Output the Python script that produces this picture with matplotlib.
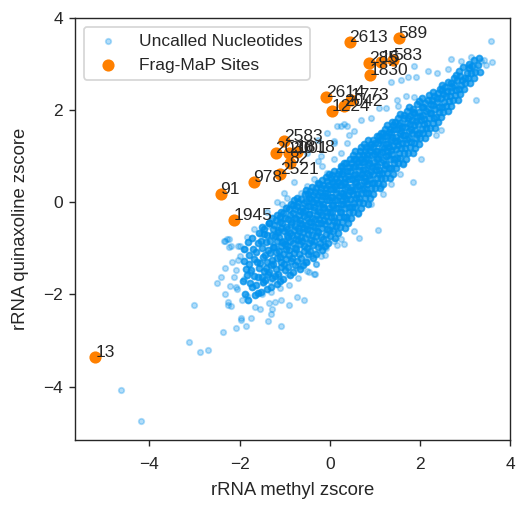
import matplotlib
matplotlib.use("Agg")
import matplotlib.pyplot as plt
import seaborn as sns

sns.set_style("ticks")
plt.rcParams["font.family"] = ["Liberation Sans", "DejaVu Sans"]
plt.rcParams["font.size"] = 10

# Frag-MaP sites (orange) with labels
site_labels = ["13", "1945", "91", "978", "2521", "2583", "2030", "1818", "2001", "82",
               "2614", "1224", "2042", "1773", "2613", "589", "285", "16", "583", "1830"]
site_x = [-5.20, -2.13, -2.42, -1.69, -1.11, -1.02, -1.20, -0.73, -0.91, -0.89,
          -0.09, 0.04, 0.31, 0.47, 0.44, 1.53, 0.87, 1.13, 1.40, 0.89]
site_y = [-3.35, -0.39, 0.17, 0.43, 0.61, 1.34, 1.08, 1.10, 1.08, 0.86,
          2.29, 1.99, 2.10, 2.21, 3.48, 3.57, 3.03, 3.05, 3.09, 2.77]

# Uncalled nucleotides: sparse periphery points
edge_pts = [
    (-4.62, -4.07), (-4.19, -4.74), (-3.02, -2.24), (-3.13, -3.03), (-2.88, -3.25), (-2.70, -3.21),
    (-2.36, -2.82), (-2.07, -2.73), (-1.85, -2.69), (-1.75, -2.51), (-1.97, -2.55), (-2.25, -2.24),
    (-2.20, -2.26), (-2.26, -2.17), (-2.51, -1.76), (-2.33, -1.99), (-2.41, -1.63), (-2.33, -1.43),
    (-2.23, -0.96), (-2.33, -0.83), (-2.23, -0.80), (-2.04, -0.94), (-2.16, -1.30), (-2.07, -1.48),
    (-2.13, -1.63), (-2.22, -1.81), (-1.66, -2.28), (-1.55, -2.31), (-1.94, -2.13), (-1.83, -2.03),
    (-2.05, -1.88), (-1.90, -1.66), (-1.76, -1.52), (-1.98, -1.16), (-1.87, -1.02), (-2.03, -1.25),
    (-2.07, -1.84), (-1.96, -2.51), (-1.36, -2.57), (-1.31, -2.42), (-1.27, -2.31), (-1.09, -2.69),
    (-1.34, -2.18), (-1.22, -2.17), (-1.09, -2.12), (-0.90, -2.23), (-0.72, -2.06), (-0.57, -2.12),
    (-0.33, -1.56), (-0.35, -1.56), (-0.46, -1.52), (-0.31, -1.34), (-0.20, -1.17), (-0.09, -1.00),
    (0.17, -0.93), (0.32, -0.91), (0.54, -0.63), (0.65, -0.78), (1.07, -0.61), (0.10, -0.58),
    (0.24, -0.80), (-0.05, -0.80), (-0.20, -0.94), (-0.42, -1.16), (-0.50, -1.30), (-0.64, -1.38),
    (0.39, -0.37), (0.62, -0.26), (0.91, -0.04), (1.19, 0.17), (1.36, 0.39), (0.83, 0.28),
    (1.13, 0.35), (0.54, 0.06), (1.85, 0.45), (1.56, 0.61), (1.62, 0.86), (2.02, 0.93),
    (2.36, 1.47), (2.47, 1.58), (3.24, 2.21), (3.58, 3.51), (3.59, 3.04), (3.47, 2.98),
    (3.42, 3.08), (3.36, 3.06), (3.23, 2.91), (3.13, 3.15), (3.06, 2.95), (2.91, 3.06),
    (2.70, 3.11), (2.62, 2.89), (2.38, 2.80), (2.17, 2.85), (1.87, 2.95), (1.91, 2.73),
    (1.73, 2.72), (1.58, 2.66), (1.36, 2.62), (1.69, 2.30), (1.87, 2.29), (1.52, 2.10),
    (1.24, 2.05), (1.50, 2.23), (1.10, 2.05), (0.91, 1.83), (0.69, 1.79), (0.54, 1.54),
    (0.39, 1.65), (0.24, 1.65), (0.17, 1.65), (0.32, 1.69), (0.43, 1.47), (0.39, 1.29),
    (0.10, 1.29), (0.24, 1.07), (-0.05, 1.51), (-0.27, 1.36), (0.10, 1.33), (-0.50, 1.07),
    (-0.20, 1.00), (0.10, 0.93), (-0.27, 0.89), (-0.16, 0.78), (-0.05, 0.64), (-0.35, 0.50),
    (-0.50, 0.35), (-0.64, 0.21), (-0.94, 0.10), (-1.05, -0.04), (-0.79, 0.43), (-1.01, 0.21),
    (-1.16, 0.00), (-1.38, -0.22), (-1.09, -0.30), (-1.68, -0.58), (-1.53, -0.69), (-1.83, -0.76),
    (-2.27, -0.80), (-2.35, -0.84), (-2.20, -0.94), (-1.98, -0.94), (-1.38, -0.51), (-0.94, -0.11),
    (-1.50, -2.00), (-1.48, -1.75), (-1.30, -1.95), (-1.32, -1.70), (-1.10, -1.85), (-1.12, -1.60),
    (-0.90, -1.80), (-0.92, -1.55), (-0.70, -1.65), (-0.72, -1.40), (-0.50, -1.50), (-0.52, -1.25),
    (-0.30, -1.35), (-0.32, -1.10), (-0.10, -1.15), (-0.12, -0.95), (0.10, -0.85),
]

# Uncalled nucleotides: dense diagonal core, read column by column (x values, y values)
core_cols = [
    ([-1.88, -1.93, -1.86, -1.91, -1.90], [-1.98, -1.71, -1.44, -1.27, -1.02]),
    ([-1.81, -1.77, -1.84, -1.80, -1.78, -1.82], [-2.11, -1.76, -1.58, -1.33, -1.15, -0.86]),
    ([-1.66, -1.72, -1.69, -1.75, -1.67, -1.70, -1.73], [-2.02, -1.83, -1.61, -1.47, -1.22, -1.01, -0.77]),
    ([-1.60, -1.64, -1.58, -1.57, -1.61, -1.63, -1.59, -1.56], [-1.97, -1.80, -1.63, -1.42, -1.29, -1.08, -0.89, -0.66]),
    ([-1.53, -1.49, -1.51, -1.46, -1.54, -1.48, -1.50, -1.52, -1.45, -1.51],
     [-1.95, -1.74, -1.62, -1.49, -1.31, -1.18, -1.00, -0.83, -0.69, -0.53]),
    ([-1.38, -1.43, -1.36, -1.41, -1.40, -1.44, -1.37, -1.42, -1.39, -1.45, -1.35],
     [-1.88, -1.69, -1.55, -1.43, -1.30, -1.14, -1.03, -0.87, -0.72, -0.58, -0.44]),
    ([-1.31, -1.27, -1.34, -1.30, -1.28, -1.32, -1.25, -1.33, -1.29, -1.26, -1.35, -1.28],
     [-1.83, -1.64, -1.52, -1.37, -1.25, -1.11, -0.98, -0.84, -0.70, -0.59, -0.46, -0.33]),
    ([-1.16, -1.22, -1.19, -1.25, -1.17, -1.20, -1.23, -1.18, -1.21, -1.15, -1.24, -1.19, -1.17],
     [-1.77, -1.60, -1.45, -1.33, -1.20, -1.07, -0.97, -0.85, -0.74, -0.61, -0.50, -0.38, -0.27]),
    ([-1.10, -1.14, -1.08, -1.07, -1.11, -1.13, -1.09, -1.06, -1.12, -1.15, -1.07, -1.10, -1.11, -1.08],
     [-1.71, -1.55, -1.41, -1.29, -1.18, -1.06, -0.95, -0.86, -0.76, -0.64, -0.55, -0.43, -0.32, -0.21]),
    ([-1.03, -0.99, -1.01, -0.96, -1.04, -0.98, -1.00, -1.02, -0.95, -1.01, -0.97, -1.05, -0.99, -1.03, -0.96],
     [-1.66, -1.48, -1.35, -1.22, -1.12, -1.01, -0.91, -0.83, -0.72, -0.63, -0.53, -0.44, -0.35, -0.24, -0.12]),
    ([-0.88, -0.93, -0.86, -0.91, -0.90, -0.94, -0.87, -0.92, -0.89, -0.95, -0.85, -0.93, -0.88, -0.91, -0.86],
     [-1.57, -1.40, -1.27, -1.15, -1.04, -0.94, -0.85, -0.75, -0.67, -0.57, -0.47, -0.37, -0.27, -0.14, -0.03]),
    ([-0.81, -0.77, -0.84, -0.80, -0.78, -0.82, -0.75, -0.83, -0.79, -0.76, -0.85, -0.78, -0.81, -0.77, -0.82, -0.80],
     [-1.52, -1.36, -1.21, -1.09, -0.99, -0.88, -0.79, -0.70, -0.61, -0.52, -0.43, -0.33, -0.24, -0.15, -0.05, 0.04]),
    ([-0.66, -0.72, -0.69, -0.75, -0.67, -0.70, -0.73, -0.68, -0.71, -0.65, -0.74, -0.69, -0.67, -0.72, -0.70, -0.73],
     [-1.44, -1.27, -1.13, -1.02, -0.91, -0.81, -0.72, -0.63, -0.55, -0.46, -0.37, -0.28, -0.19, -0.09, 0.01, 0.10]),
    ([-0.60, -0.64, -0.58, -0.57, -0.61, -0.63, -0.59, -0.56, -0.62, -0.65, -0.57, -0.60, -0.61, -0.58, -0.64, -0.55],
     [-1.37, -1.20, -1.06, -0.95, -0.84, -0.75, -0.65, -0.56, -0.48, -0.39, -0.30, -0.21, -0.12, -0.02, 0.08, 0.18]),
    ([-0.53, -0.49, -0.51, -0.46, -0.54, -0.48, -0.50, -0.52, -0.45, -0.51, -0.47, -0.55, -0.49, -0.53, -0.46, -0.48, -0.52],
     [-1.29, -1.13, -0.99, -0.88, -0.78, -0.68, -0.59, -0.50, -0.42, -0.33, -0.25, -0.16, -0.07, 0.02, 0.10, 0.18, 0.27]),
    ([-0.38, -0.43, -0.36, -0.41, -0.40, -0.44, -0.37, -0.42, -0.39, -0.45, -0.35, -0.43, -0.38, -0.41, -0.36, -0.44, -0.40],
     [-1.20, -1.05, -0.92, -0.81, -0.71, -0.61, -0.52, -0.43, -0.35, -0.26, -0.17, -0.09, 0.00, 0.08, 0.16, 0.25, 0.34]),
    ([-0.31, -0.27, -0.34, -0.30, -0.28, -0.32, -0.25, -0.33, -0.29, -0.26, -0.35, -0.28, -0.31, -0.27, -0.32, -0.30, -0.26],
     [-1.12, -0.97, -0.84, -0.73, -0.63, -0.54, -0.45, -0.36, -0.27, -0.19, -0.10, -0.01, 0.07, 0.15, 0.23, 0.32, 0.41]),
    ([-0.16, -0.22, -0.19, -0.25, -0.17, -0.20, -0.23, -0.18, -0.21, -0.15, -0.24, -0.19, -0.17, -0.22, -0.20, -0.23, -0.18],
     [-1.03, -0.88, -0.76, -0.65, -0.55, -0.46, -0.37, -0.28, -0.20, -0.11, -0.03, 0.06, 0.14, 0.22, 0.31, 0.39, 0.48]),
    ([-0.10, -0.14, -0.08, -0.07, -0.11, -0.13, -0.09, -0.06, -0.12, -0.15, -0.07, -0.10, -0.11, -0.08, -0.14, -0.05, -0.09],
     [-0.95, -0.80, -0.68, -0.57, -0.47, -0.38, -0.29, -0.20, -0.12, -0.03, 0.05, 0.13, 0.21, 0.30, 0.38, 0.46, 0.55]),
    ([-0.03, 0.01, -0.01, 0.04, -0.04, 0.02, 0.00, -0.02, 0.05, -0.01, 0.03, -0.05, 0.01, -0.03, 0.04, 0.02, -0.02],
     [-0.88, -0.73, -0.61, -0.50, -0.40, -0.31, -0.22, -0.13, -0.05, 0.04, 0.12, 0.20, 0.28, 0.37, 0.45, 0.53, 0.61]),
    ([0.12, 0.07, 0.14, 0.09, 0.10, 0.06, 0.13, 0.08, 0.11, 0.05, 0.15, 0.07, 0.12, 0.09, 0.14, 0.06, 0.10],
     [-0.77, -0.63, -0.51, -0.41, -0.31, -0.22, -0.13, -0.05, 0.04, 0.12, 0.20, 0.28, 0.36, 0.44, 0.52, 0.60, 0.69]),
    ([0.19, 0.23, 0.16, 0.20, 0.22, 0.18, 0.25, 0.17, 0.21, 0.24, 0.15, 0.22, 0.19, 0.23, 0.18, 0.20, 0.24],
     [-0.67, -0.53, -0.42, -0.32, -0.22, -0.13, -0.04, 0.04, 0.13, 0.21, 0.29, 0.37, 0.45, 0.53, 0.61, 0.69, 0.78]),
    ([0.34, 0.28, 0.31, 0.25, 0.33, 0.30, 0.27, 0.32, 0.29, 0.35, 0.26, 0.31, 0.33, 0.28, 0.30, 0.27, 0.32],
     [-0.56, -0.43, -0.32, -0.22, -0.13, -0.04, 0.05, 0.13, 0.21, 0.29, 0.37, 0.45, 0.53, 0.61, 0.69, 0.77, 0.86]),
    ([0.40, 0.36, 0.42, 0.43, 0.39, 0.37, 0.41, 0.44, 0.38, 0.35, 0.43, 0.40, 0.39, 0.42, 0.36, 0.45],
     [-0.45, -0.32, -0.21, -0.11, -0.02, 0.07, 0.16, 0.24, 0.33, 0.41, 0.50, 0.58, 0.67, 0.76, 0.85, 0.94]),
    ([0.47, 0.51, 0.49, 0.54, 0.46, 0.52, 0.50, 0.48, 0.55, 0.49, 0.53, 0.45, 0.51, 0.47, 0.54, 0.52],
     [-0.35, -0.22, -0.11, -0.01, 0.08, 0.17, 0.26, 0.34, 0.43, 0.51, 0.60, 0.68, 0.77, 0.85, 0.93, 1.02]),
    ([0.62, 0.57, 0.64, 0.59, 0.60, 0.56, 0.63, 0.58, 0.61, 0.55, 0.65, 0.57, 0.62, 0.59, 0.64, 0.56],
     [-0.24, -0.11, 0.00, 0.10, 0.19, 0.28, 0.36, 0.45, 0.53, 0.62, 0.70, 0.78, 0.87, 0.95, 1.03, 1.11]),
    ([0.69, 0.73, 0.66, 0.70, 0.72, 0.68, 0.75, 0.67, 0.71, 0.74, 0.65, 0.72, 0.69, 0.73, 0.68, 0.70],
     [-0.13, -0.01, 0.10, 0.20, 0.29, 0.37, 0.46, 0.54, 0.62, 0.71, 0.79, 0.87, 0.95, 1.03, 1.11, 1.19]),
    ([0.84, 0.78, 0.81, 0.75, 0.83, 0.80, 0.77, 0.82, 0.79, 0.85, 0.76, 0.81, 0.83, 0.78, 0.80, 0.77],
     [-0.03, 0.09, 0.20, 0.30, 0.39, 0.47, 0.55, 0.64, 0.72, 0.80, 0.88, 0.96, 1.04, 1.12, 1.20, 1.27]),
    ([0.90, 0.86, 0.92, 0.93, 0.89, 0.87, 0.91, 0.94, 0.88, 0.85, 0.93, 0.90, 0.89, 0.92, 0.86],
     [0.09, 0.21, 0.32, 0.42, 0.51, 0.60, 0.69, 0.77, 0.86, 0.94, 1.03, 1.11, 1.19, 1.27, 1.35]),
    ([0.97, 1.01, 0.99, 1.04, 0.96, 1.02, 1.00, 0.98, 1.05, 0.99, 1.03, 0.95, 1.01, 0.97, 1.04],
     [0.19, 0.31, 0.42, 0.52, 0.61, 0.70, 0.78, 0.87, 0.95, 1.04, 1.12, 1.20, 1.28, 1.36, 1.43]),
    ([1.12, 1.07, 1.14, 1.09, 1.10, 1.06, 1.13, 1.08, 1.11, 1.05, 1.15, 1.07, 1.12, 1.09, 1.14],
     [0.30, 0.42, 0.52, 0.62, 0.71, 0.79, 0.88, 0.96, 1.04, 1.12, 1.20, 1.28, 1.36, 1.44, 1.51]),
    ([1.19, 1.23, 1.16, 1.20, 1.22, 1.18, 1.25, 1.17, 1.21, 1.24, 1.15, 1.22, 1.19, 1.23],
     [0.40, 0.52, 0.63, 0.73, 0.82, 0.91, 1.00, 1.09, 1.18, 1.27, 1.35, 1.43, 1.51, 1.59]),
    ([1.34, 1.28, 1.31, 1.25, 1.33, 1.30, 1.27, 1.32, 1.29, 1.35, 1.26, 1.31, 1.33, 1.28],
     [0.52, 0.64, 0.74, 0.84, 0.93, 1.02, 1.11, 1.19, 1.28, 1.36, 1.44, 1.52, 1.60, 1.67]),
    ([1.40, 1.36, 1.42, 1.43, 1.39, 1.37, 1.41, 1.44, 1.38, 1.35, 1.43, 1.40, 1.39],
     [0.62, 0.74, 0.85, 0.95, 1.05, 1.14, 1.23, 1.32, 1.41, 1.50, 1.59, 1.67, 1.75]),
    ([1.47, 1.51, 1.49, 1.54, 1.46, 1.52, 1.50, 1.48, 1.55, 1.49, 1.53, 1.45, 1.51],
     [0.74, 0.86, 0.97, 1.07, 1.16, 1.25, 1.34, 1.42, 1.51, 1.59, 1.67, 1.75, 1.83]),
    ([1.62, 1.57, 1.64, 1.59, 1.60, 1.56, 1.63, 1.58, 1.61, 1.55, 1.65, 1.57],
     [0.84, 0.97, 1.08, 1.18, 1.28, 1.37, 1.46, 1.55, 1.64, 1.73, 1.82, 1.91]),
    ([1.69, 1.73, 1.66, 1.70, 1.72, 1.68, 1.75, 1.67, 1.71, 1.74, 1.65, 1.72],
     [0.95, 1.07, 1.18, 1.28, 1.37, 1.46, 1.55, 1.64, 1.73, 1.82, 1.90, 1.99]),
    ([1.84, 1.78, 1.81, 1.75, 1.83, 1.80, 1.77, 1.82, 1.79, 1.85, 1.76],
     [1.07, 1.19, 1.30, 1.40, 1.50, 1.60, 1.69, 1.78, 1.87, 1.96, 2.06]),
    ([1.90, 1.86, 1.92, 1.93, 1.89, 1.87, 1.91, 1.94, 1.88, 1.85, 1.93],
     [1.17, 1.29, 1.39, 1.49, 1.58, 1.67, 1.76, 1.85, 1.94, 2.03, 2.13]),
    ([1.97, 2.01, 1.99, 2.04, 1.96, 2.02, 2.00, 1.98, 2.05, 1.99],
     [1.27, 1.39, 1.50, 1.60, 1.70, 1.79, 1.88, 1.97, 2.07, 2.19]),
    ([2.12, 2.07, 2.14, 2.09, 2.10, 2.06, 2.13, 2.08, 2.11, 2.05],
     [1.39, 1.51, 1.61, 1.71, 1.80, 1.89, 1.98, 2.07, 2.16, 2.26]),
    ([2.19, 2.23, 2.16, 2.20, 2.22, 2.18, 2.25, 2.17, 2.21],
     [1.50, 1.62, 1.73, 1.83, 1.93, 2.03, 2.13, 2.23, 2.33]),
    ([2.34, 2.28, 2.31, 2.25, 2.33, 2.30, 2.27, 2.32, 2.29],
     [1.62, 1.73, 1.84, 1.94, 2.03, 2.12, 2.21, 2.30, 2.40]),
    ([2.40, 2.36, 2.42, 2.43, 2.39, 2.37, 2.41, 2.44],
     [1.74, 1.86, 1.97, 2.07, 2.17, 2.27, 2.37, 2.47]),
    ([2.47, 2.51, 2.49, 2.54, 2.46, 2.52, 2.50, 2.48],
     [1.86, 1.97, 2.07, 2.17, 2.26, 2.35, 2.44, 2.54]),
    ([2.62, 2.57, 2.64, 2.59, 2.60, 2.56, 2.63], [1.98, 2.09, 2.20, 2.31, 2.41, 2.51, 2.61]),
    ([2.69, 2.73, 2.66, 2.70, 2.72, 2.68, 2.75], [2.10, 2.21, 2.31, 2.41, 2.50, 2.59, 2.69]),
    ([2.84, 2.78, 2.81, 2.75, 2.83, 2.80], [2.22, 2.33, 2.44, 2.55, 2.66, 2.77]),
    ([2.90, 2.86, 2.92, 2.93, 2.89, 2.87], [2.34, 2.45, 2.55, 2.65, 2.75, 2.85]),
    ([2.97, 3.01, 2.99, 3.04, 2.96], [2.46, 2.58, 2.70, 2.81, 2.93]),
    ([3.12, 3.07, 3.14, 3.09, 3.10], [2.58, 2.69, 2.80, 2.91, 3.01]),
    ([3.19, 3.23, 3.16, 3.20], [2.70, 2.83, 2.96, 3.09]),
    ([3.34, 3.28, 3.31], [2.82, 2.98, 3.14]),
]

edge_x = [p[0] for p in edge_pts]
edge_y = [p[1] for p in edge_pts]
core_x = [v for xs, ys in core_cols for v in xs]
core_y = [v for xs, ys in core_cols for v in ys]

blue = "#0090ec"
orange = "#ff8000"

fig = plt.figure(figsize=(4.224, 4.096), dpi=125)
ax = fig.add_axes([0.142, 0.1406, 0.824, 0.8242])

ax.scatter(core_x, core_y, s=12, color=blue, alpha=0.75, zorder=2)
ax.scatter(edge_x, edge_y, s=10, color=blue, alpha=0.3, zorder=2,
           label="Uncalled Nucleotides")
ax.scatter(site_x, site_y, s=36, color=orange, zorder=3, label="Frag-MaP Sites")
for lab, xv, yv in zip(site_labels, site_x, site_y):
    ax.text(xv, yv, lab, zorder=4)

ax.set_xlim(-5.65, 4.0)
ax.set_ylim(-5.16, 4.0)
ax.set_xticks([-4, -2, 0, 2, 4])
ax.set_yticks([-4, -2, 0, 2, 4])
ax.tick_params(axis="x", pad=6)
ax.set_xlabel("rRNA methyl zscore", fontsize=10.7, labelpad=6)
ax.set_ylabel("rRNA quinaxoline zscore", fontsize=10.7, labelpad=8)
ax.legend(loc="upper left")

fig.savefig("out.png", dpi=125)
